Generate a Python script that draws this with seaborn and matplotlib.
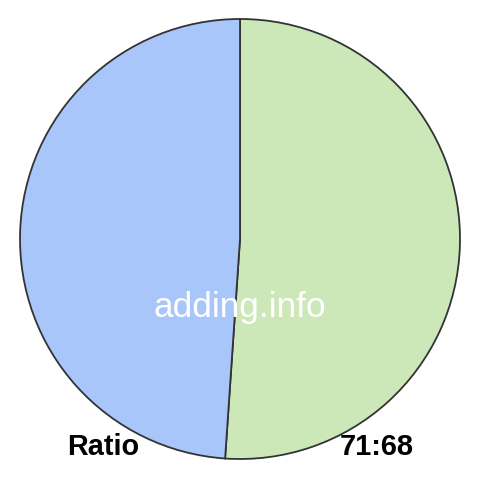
import matplotlib
matplotlib.use("Agg")
import matplotlib.pyplot as plt
import seaborn as sns

# ratio parts
labels = ["71", "68"]
values = [71, 68]
colors = ["#cde8b8", "#a8c6fa"]

sns.set_theme(style="white")
plt.rcParams['font.family'] = ['Liberation Sans', 'DejaVu Sans']

fig = plt.figure(figsize=(4.8, 4.8), dpi=100)
ax = fig.add_axes([0, 0, 1, 1])
ax.pie(values, colors=colors, startangle=90, counterclock=False,
       radius=220, center=(240, 241),
       wedgeprops=dict(edgecolor="#333333", linewidth=1.3))
ax.set_xlim(0, 480)
ax.set_ylim(0, 480)
ax.set_aspect("equal")
ax.axis("off")

ax.text(240, 173, "adding.info", color="white", fontsize=25.3,
        ha="center", va="center")
ax.text(103.5, 33, "Ratio", color="black", fontsize=20.8, fontweight="bold",
        ha="center", va="center")
ax.text(376.5, 33, f"{values[0]}:{values[1]}", color="black", fontsize=20.9,
        fontweight="bold", ha="center", va="center")

fig.savefig("out.png", dpi=100, facecolor="white")
